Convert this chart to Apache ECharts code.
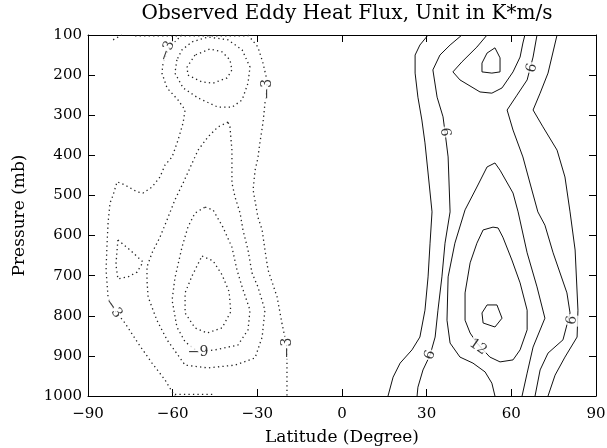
<!DOCTYPE html>
<html><head><meta charset="utf-8">
<script src="https://cdn.jsdelivr.net/npm/echarts@6/dist/echarts.min.js"></script>
<style>html,body{margin:0;padding:0;background:#fff}#c{width:607px;height:448px}</style>
</head><body><div id="c"></div>
<script>
// ---------- DATA (latitude in degrees, pressure in mb) ----------
const titleText = 'Observed Eddy Heat Flux, Unit in K*m/s';
const xName = 'Latitude (Degree)';
const yName = 'Pressure (mb)';
const latTicks = [-90, -60, -30, 0, 30, 60, 90];
const presTicks = [100, 200, 300, 400, 500, 600, 700, 800, 900, 1000];

// negative contours (dotted)
const negOuterLeft3 = [[-56.7,100],[-59.2,117],[-60.9,125],[-63.4,170],[-63.8,195],[-62.0,232],[-58.1,262],[-55.6,287],[-56.3,319],[-58.1,362],[-60.2,404],[-62.7,424],[-64.5,454],[-67.3,479],[-70.5,494],[-72.6,491],[-76.9,474],[-79.7,466],[-81.1,499],[-82.2,519],[-82.9,569],[-83.3,629],[-83.6,686],[-82.9,753],[-81.1,781],[-76.9,818],[-72.3,868],[-67.3,918],[-62.7,960],[-59.9,993],[-59.2,1000]];
const negOuterRight3 = [[-33.3,100],[-29.8,130],[-28.0,170],[-26.6,212],[-26.6,235],[-27.3,270],[-28.0,319],[-29.1,369],[-29.8,407],[-30.8,437],[-31.5,486],[-29.8,554],[-28.3,586],[-27.3,636],[-26.2,686],[-23.0,753],[-21.3,818],[-19.5,878],[-19.5,935],[-19.5,1000]];
const negTopEdge3 = [[-73.3,102],[-33.3,102]];
const negBottomEdge3 = [[-59.2,996],[-45.0,996]];
const negCorner3 = [[-81.1,112],[-78.0,100]];
const negUpperRing6 = [[-58.5,162],[-59.2,195],[-56.3,232],[-51.0,257],[-43.9,280],[-39.0,280],[-35.4,262],[-33.3,220],[-32.6,180],[-35.4,137],[-40.4,112],[-47.5,105],[-53.1,117],[-56.7,137]];
const negUpperCore9 = [[-52.1,150],[-54.9,180],[-54.6,200],[-49.6,217],[-45.7,220],[-40.7,207],[-39.0,187],[-39.7,162],[-42.5,142],[-46.8,135]];
const negLowerRing6 = [[-40.4,317],[-43.9,329],[-47.5,354],[-51.0,387],[-56.3,469],[-59.2,511],[-62.0,561],[-64.5,604],[-67.3,643],[-69.1,678],[-69.1,711],[-68.7,753],[-65.6,811],[-62.0,860],[-55.6,923],[-47.5,930],[-37.9,923],[-30.8,905],[-28.3,853],[-27.3,786],[-29.8,728],[-31.9,693],[-33.3,636],[-35.1,586],[-36.1,544],[-37.9,504],[-39.0,469],[-39.0,387],[-39.7,329]];
const negLowerRing9 = [[-48.5,529],[-45.7,536],[-42.2,579],[-39.0,629],[-37.2,686],[-35.4,728],[-32.6,786],[-33.3,835],[-36.9,873],[-45.0,885],[-51.0,890],[-55.6,865],[-58.5,828],[-60.2,761],[-59.2,706],[-56.7,629],[-54.6,579],[-52.1,544]];
const negLowerCore12 = [[-49.6,651],[-45.7,663],[-42.5,698],[-40.0,740],[-39.4,790],[-42.5,830],[-47.8,843],[-52.1,830],[-55.6,793],[-55.6,743],[-53.1,700]];
const negSideLoop6 = [[-79.4,611],[-75.1,636],[-70.5,666],[-72.6,691],[-75.8,703],[-79.4,708],[-80.1,673],[-79.7,636]];

// positive contours (solid)
const posLeft3 = [[30.5,100],[27.6,125],[25.9,150],[25.9,195],[26.9,255],[28.3,312],[29.4,369],[30.5,444],[31.9,541],[31.2,619],[30.5,703],[29.4,786],[27.6,853],[24.8,885],[20.6,918],[18.1,953],[16.3,1000]];
const posLeft6 = [[42.5,100],[38.3,125],[34.7,150],[32.2,187],[33.7,255],[35.8,304],[36.5,342],[37.6,404],[38.3,541],[36.5,619],[35.4,703],[34.0,786],[33.0,853],[31.2,898],[28.7,935],[26.9,978],[26.6,1000]];
const posUpper9 = [[51.4,100],[47.8,130],[42.5,167],[39.3,192],[41.8,212],[48.9,242],[53.1,245],[56.7,232],[60.6,192],[63.1,155],[64.1,120],[64.8,100]];
const posUpperCore12 = [[51.4,145],[49.6,170],[49.6,192],[53.1,195],[56.0,192],[56.0,157],[54.2,132]];
const posLower9 = [[54.2,1000],[53.1,968],[50.7,940],[46.4,918],[41.8,903],[38.3,868],[37.2,811],[37.6,703],[40.0,619],[43.6,536],[47.8,479],[51.4,429],[54.2,419],[56.0,437],[60.6,494],[62.4,541],[65.6,643],[69.1,728],[71.9,806],[67.7,878],[65.6,943],[63.8,1000]];
const posLowerRing12 = [[53.5,579],[50.0,586],[47.8,619],[45.4,668],[43.6,743],[43.6,811],[45.4,843],[47.8,868],[52.4,903],[56.0,915],[60.6,910],[63.1,885],[65.6,835],[65.6,786],[63.1,718],[60.2,661],[57.0,604],[55.3,581]];
const posLowerCore15 = [[51.4,773],[49.6,793],[50.0,818],[54.2,828],[56.7,806],[54.9,773]];
const posRight6 = [[69.1,100],[67.7,155],[65.6,212],[62.0,250],[58.5,287],[60.6,337],[64.1,404],[66.6,469],[69.4,541],[71.9,574],[74.8,643],[79.7,743],[80.8,793],[78.3,860],[73.0,893],[70.2,935],[68.4,1000]];
const posRight3 = [[76.2,100],[73.0,195],[70.2,245],[67.7,287],[71.2,329],[76.2,387],[79.0,454],[80.8,541],[82.6,636],[83.6,786],[83.3,853],[79.0,903],[75.5,948],[73.0,1000]];

// contour labels: [lat, pressure, text]
const contourLabels = [[-62.0,140,'\u22123'],[-26.6,235,'\u22123'],[-81.1,781,'\u22123'],[-19.3,880,'\u22123'],[-51.0,890,'\u22129'],[36.5,342,'6'],[67.3,182,'6'],[31.2,898,'6'],[81.5,811,'6'],[48.2,878,'12']];

// ---------- STYLE ----------
const labelAngles = [70, 90, -55, 90, 0, -85, 75, 70, 80, -35];
const FONT = 'DejaVu Serif';
const fmt = v => String(v).replace('-', '\u2212');

function contour(data, dotted, closed) {
  const d = closed ? data.concat([data[0]]) : data;
  return {
    type: 'line', data: d, showSymbol: false, symbol: 'none', silent: true, clip: true,
    animation: false, z: 2,
    lineStyle: dotted ? { color: '#222', width: 1.3, type: [1.3, 3.2] } : { color: '#111', width: 1 }
  };
}

const series = [
  contour(negOuterLeft3, true), contour(negOuterRight3, true), contour(negTopEdge3, true),
  contour(negBottomEdge3, true), contour(negCorner3, true),
  contour(negUpperRing6, true, true), contour(negUpperCore9, true, true),
  contour(negLowerRing6, true, true), contour(negLowerRing9, true, true),
  contour(negLowerCore12, true, true), contour(negSideLoop6, true, true),
  contour(posLeft3, false), contour(posLeft6, false), contour(posUpper9, false),
  contour(posUpperCore12, false, true), contour(posLower9, false),
  contour(posLowerRing12, false, true), contour(posLowerCore15, false, true),
  contour(posRight6, false), contour(posRight3, false),
  {
    type: 'scatter', symbolSize: 0, silent: true, animation: false, z: 5,
    data: contourLabels.map((l, i) => ({ value: [l[0], l[1]], label: { formatter: l[2], rotate: labelAngles[i] } })),
    label: { show: true, position: 'inside', fontFamily: FONT, fontSize: 14, color: '#000', backgroundColor: '#fff', padding: [0, 1] }
  }
];

const axisLine = { show: true, onZero: false, lineStyle: { color: '#000', width: 1 } };
const axisTick = { show: true, inside: true, length: 7, lineStyle: { color: '#000', width: 1 } };

const option = {
  animation: false,
  backgroundColor: '#fff',
  title: { text: titleText, left: 342, top: -1, textAlign: 'center',
    textStyle: { fontFamily: FONT, fontSize: 20, fontWeight: 'normal', color: '#000' } },
  grid: { left: 88, right: 11, top: 35, bottom: 52, containLabel: false, outerBoundsMode: 'none' },
  xAxis: [
    { type: 'value', position: 'bottom', min: latTicks[0], max: latTicks[latTicks.length - 1], interval: 30,
      axisLine, axisTick, splitLine: { show: false },
      axisLabel: { margin: 11, color: '#000', fontFamily: FONT, fontSize: 15, formatter: fmt },
      name: xName, nameLocation: 'middle', nameGap: 33,
      nameTextStyle: { fontFamily: FONT, fontSize: 17, color: '#000' } },
    { type: 'value', position: 'top', min: latTicks[0], max: latTicks[latTicks.length - 1], interval: 30,
      axisLine, axisTick, splitLine: { show: false }, axisLabel: { show: false } }
  ],
  yAxis: [
    { type: 'value', position: 'left', inverse: true, min: presTicks[0], max: presTicks[presTicks.length - 1], interval: 100,
      axisLine, axisTick, splitLine: { show: false },
      axisLabel: { margin: 6, color: '#000', fontFamily: FONT, fontSize: 15, formatter: fmt },
      name: yName, nameLocation: 'middle', nameGap: 60,
      nameTextStyle: { fontFamily: FONT, fontSize: 17, color: '#000' } },
    { type: 'value', position: 'right', inverse: true, min: presTicks[0], max: presTicks[presTicks.length - 1], interval: 100,
      axisLine, axisTick, splitLine: { show: false }, axisLabel: { show: false } }
  ],
  series
};

const chart = echarts.init(document.getElementById('c'), null, { renderer: 'canvas' });
chart.setOption(option);
</script></body></html>
